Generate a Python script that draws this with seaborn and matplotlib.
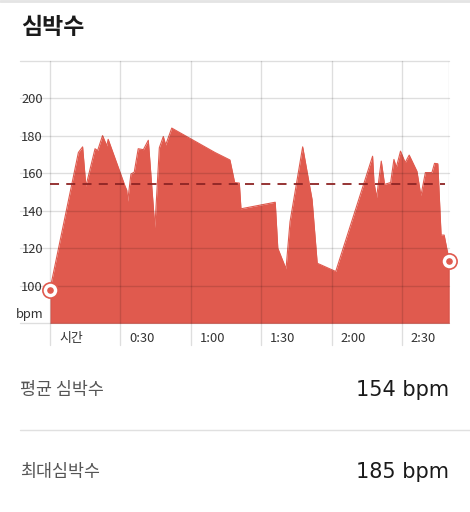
import seaborn as sns
import pandas as pd
import numpy as np
import matplotlib.pyplot as plt
import matplotlib.transforms as mtransforms

# heart rate samples (minutes from start, bpm)
minutes = [0, 12.1, 13.9, 15.3, 19.2, 20.3, 22.4, 24.2, 24.8, 32.0, 32.7, 33.1,
           34.5, 35.9, 37.6, 39.8, 41.9, 44.7, 46.6, 48.3, 49.3, 51.9, 53.3,
           70.3, 76.7, 78.7, 80.7, 81.4, 96.0, 97.1, 100.6, 102.3, 107.7, 109.4,
           111.7, 113.9, 121.8, 137.5, 138.1, 139.2, 141.2, 142.6, 145.2, 146.6,
           147.6, 149.4, 151.4, 153.1, 156.4, 158.1, 160.0, 162.8, 163.9, 165.3,
           166.7, 168.0, 170.2]
bpm = [98, 171, 174, 153, 173, 172, 180, 174.5, 178, 153, 151, 145,
       159.5, 160.5, 173, 172.5, 177.5, 131, 173.5, 179.5, 175, 184, 183,
       171, 167, 155, 154.7, 141, 144.5, 120, 109, 134, 174, 162,
       146, 112, 107.6, 169, 155, 147, 166.4, 154, 155, 167.3,
       163, 171.7, 165.6, 169.6, 161, 148, 160.3, 160.3, 165.2, 165,
       127, 127, 113]
avg_bpm = 154
max_bpm = 185
y_ticks = [100, 120, 140, 160, 180, 200]
x_ticks = [0, 30, 60, 90, 120, 150]
x_labels = ["시간", "0:30", "1:00", "1:30", "2:00", "2:30"]

hr = pd.DataFrame({"t": minutes, "bpm": bpm})

sns.set_theme(style="white")
plt.rcParams["font.family"] = ["Noto Sans CJK KR", "DejaVu Sans"]

red = "#E05A4E"
grid_c = (0, 0, 0, 0.13)

fig = plt.figure(figsize=(4.7, 5.12), dpi=100)
ax = fig.add_axes([50 / 470, 1 - 323.3 / 512, 399.3 / 470, 262.8 / 512])

ax.fill_between(hr["t"], hr["bpm"], 80, color=red, lw=0, zorder=1)
sns.lineplot(data=hr, x="t", y="bpm", ax=ax, color=red, lw=0.8, zorder=2)

ax.set_xlim(0, 170.2)
ax.set_ylim(80, 220)
for s in ax.spines.values():
    s.set_visible(False)

# grid
for v in range(80, 221, 20):
    ax.axhline(v, xmin=-0.075, xmax=1, color=grid_c, lw=1, clip_on=False, zorder=3)
for t in x_ticks:
    ax.axvline(t, ymin=-0.084, ymax=1, color=grid_c, lw=1, clip_on=False, zorder=3)
ax.axvline(170.2, color=grid_c, lw=1, zorder=3)

# average line
ax.axhline(avg_bpm, xmin=0, xmax=0.99, color="#8E2424", lw=1.3,
           dashes=(5, 4), zorder=4)

# end markers
ends = hr.iloc[[0, -1]]
ax.scatter(ends["t"], ends["bpm"], s=120, color="white", edgecolor=red,
           linewidth=1.2, zorder=6, clip_on=False)
ax.scatter(ends["t"], ends["bpm"], s=14, color=red, zorder=7, clip_on=False)

# ticks
ax.set_yticks(y_ticks + [85.5])
ax.set_yticklabels([str(v) for v in y_ticks] + ["bpm"])
ax.set_xticks(x_ticks)
ax.set_xticklabels(x_labels)
ax.tick_params(axis="both", length=0, labelsize=9.3, labelcolor="#333333")
ax.tick_params(axis="y", pad=5)
ax.tick_params(axis="x", pad=6)
off = mtransforms.ScaledTranslation(9 / 100, 0, fig.dpi_scale_trans)
for lab in ax.get_xticklabels():
    lab.set_horizontalalignment("left")
    lab.set_transform(lab.get_transform() + off)
ax.set_xlabel("")
ax.set_ylabel("")

# header and summary
fig.add_artist(plt.Line2D([0, 1], [1 - 1 / 512, 1 - 1 / 512], color="#e4e4e4", lw=2))
fig.text(21 / 470, 1 - 28 / 512, "심박수", fontsize=16.5, fontweight="bold",
         color="#1a1a1a", va="center", ha="left")
fig.text(20 / 470, 1 - 390 / 512, "평균 심박수", fontsize=12.5, color="#555555",
         va="center", ha="left")
fig.text(449 / 470, 1 - 390 / 512, f"{avg_bpm} bpm", fontsize=15, color="#1a1a1a",
         va="center", ha="right", family="DejaVu Sans")
fig.add_artist(plt.Line2D([20 / 470, 1], [1 - 429.5 / 512, 1 - 429.5 / 512],
                          color="#e0e0e0", lw=1))
fig.text(20 / 470, 1 - 472 / 512, "최대심박수", fontsize=12.5, color="#555555",
         va="center", ha="left")
fig.text(449 / 470, 1 - 472 / 512, f"{max_bpm} bpm", fontsize=15, color="#1a1a1a",
         va="center", ha="right", family="DejaVu Sans")

fig.savefig("out.png", dpi=100)
